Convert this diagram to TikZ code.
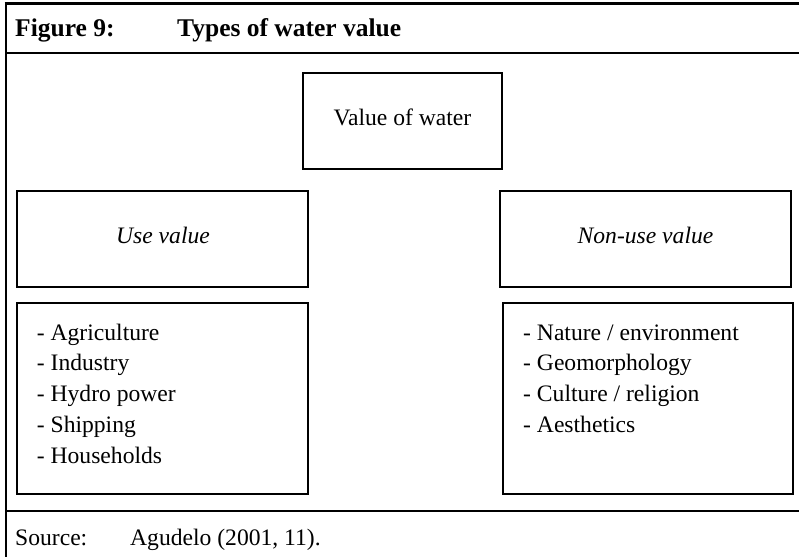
\documentclass[tikz,border=0pt]{standalone}
\usepackage{fontspec}
\setmainfont{Liberation Serif}
\begin{document}
\begin{tikzpicture}[x=1pt,y=-1pt,
  frameline/.style={line width=2.2pt},
  box/.style={draw, line width=1.4pt, inner sep=0pt},
  txt/.style={font=\fontsize{23.6}{28}\selectfont, inner sep=0pt},
  ttl/.style={font=\fontsize{25.5}{30}\selectfont\bfseries, inner sep=0pt}]
\useasboundingbox (0,0) rectangle (799,557);
% frame
\coordinate (ftl) at (4.6,3.4);
\coordinate (ftr) at (799,3.4);
\coordinate (fml) at (5.7,53);
\coordinate (fmr) at (799,53);
\coordinate (fbl) at (5.7,511);
\coordinate (fbr) at (799,511);
\coordinate (fleftbot) at (5.7,557);
\draw[frameline] (ftl) -- (ftr);
\draw[frameline] (fml) -- (fmr);
\draw[frameline] (fbl) -- (fbr);
\draw[frameline] (5.7,2.3) -- (fleftbot);
% title
\node[ttl, anchor=base west] (fig) at (15,36.5) {Figure 9:};
\node[ttl, anchor=base west] (title) at (177,36.5) {Types of water value};
% boxes
\node[box, minimum width=199pt, minimum height=96pt] (valbox) at (402.5,121) {};
\node[box, minimum width=291pt, minimum height=96pt] (usebox) at (162.5,239) {};
\node[box, minimum width=291pt, minimum height=96pt] (nonusebox) at (645.5,239) {};
\node[box, minimum width=291pt, minimum height=191pt] (uselist) at (162.5,398.5) {};
\node[box, minimum width=290pt, minimum height=191pt] (nonuselist) at (648,398.5) {};
% box texts
\node[txt, anchor=base] (valtxt) at (402.5,125) {Value of water};
\node[txt, anchor=base] (usetxt) at (163,243) {\itshape Use value};
\node[txt, anchor=base] (nonusetxt) at (645.5,243) {\itshape Non-use value};
% lists
\foreach \t [count=\i from 0] in {Agriculture,Industry,Hydro power,Shipping,Households}
  \node[txt, anchor=base west] (u\i) at (36.7,340+30.75*\i) {- \t};
\foreach \t [count=\i from 0] in {Nature / environment,Geomorphology,Culture / religion,Aesthetics}
  \node[txt, anchor=base west] (n\i) at (523,340+30.75*\i) {- \t};
% source
\node[txt, anchor=base west] (src) at (15,545) {Source:};
\node[txt, anchor=base west] (srcref) at (130,545) {Agudelo (2001, 11).};
\end{tikzpicture}
\end{document}
